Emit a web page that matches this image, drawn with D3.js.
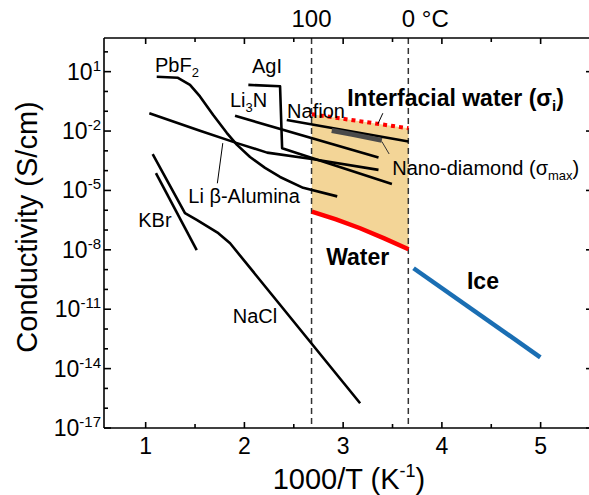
<!DOCTYPE html>
<html>
<head>
<meta charset="utf-8">
<script src="https://cdn.jsdelivr.net/npm/d3@7/dist/d3.min.js"></script>
<style>
  body { margin: 0; background: #fff; }
  svg { display: block; font-family: "Liberation Sans", Arial, sans-serif; }
</style>
</head>
<body>
<svg id="chart" width="589" height="495"></svg>
<script>
// values are [1000/T, log10(sigma in S/cm)]
var pbf2 = [[1.112, 0.74], [1.327, 0.69], [1.449, 0.33], [1.550, -0.25], [1.682, -1.18],
  [1.821, -2.09], [1.925, -2.70], [2.057, -3.31], [2.209, -3.86], [2.361, -4.32],
  [2.595, -4.87], [2.940, -5.30]];
var agi = [[2.040, 0.33], [2.361, 0.26], [2.382, -2.87], [3.494, -4.67]];
var li3n = [[1.905, -1.23], [3.358, -3.34]];
var nafion = [[2.429, -1.44], [3.662, -2.53]];
var liAlumina = [[1.037, -1.10], [1.550, -1.99], [1.925, -2.61], [2.230, -3.09],
  [2.683, -3.41], [3.358, -3.96]];
var kbr = [[1.104, -4.13], [1.517, -8.01]];
var nacl = [[1.071, -3.16], [1.398, -6.15], [1.517, -6.49], [1.736, -7.16],
  [1.855, -7.67], [3.172, -15.75]];
var nanoDiamond = [[2.885, -1.97], [3.091, -2.17], [3.392, -2.47]];
var interfacialWater = [[2.683, -1.15], [3.662, -1.86]];
var water = [[2.683, -6.07], [2.928, -6.46], [3.172, -6.91], [3.416, -7.42], [3.662, -7.97]];
var ice = [[3.713, -8.93], [4.997, -13.43]];

var boilingX = 2.68, freezingX = 3.66;

var xMajor = [1, 2, 3, 4, 5];
var xMinor = [1.5, 2.5, 3.5, 4.5];
var yMajorExp = [1, -2, -5, -8, -11, -14, -17];
var yMinorExp = [2, 0, -1, -3, -4, -6, -7, -9, -10, -12, -13, -15, -16];

var labels = [
  { text: 'PbF', sub: '2', x: 1.094, y: 0.99 },
  { text: 'AgI', x: 2.077, y: 0.94 },
  { text: 'Li', sub: '3', after: 'N', x: 1.854, y: -0.78 },
  { text: 'Nafion', x: 2.432, y: -1.34 },
  { text: 'Li \u03b2-Alumina', x: 1.432, y: -5.65 },
  { text: 'KBr', x: 0.925, y: -6.86 },
  { text: 'NaCl', x: 1.882, y: -11.71 },
  { text: 'Nano-diamond (\u03c3', sub: 'max', after: ')', x: 3.497, y: -4.22 },
  { text: 'Interfacial water (\u03c3', sub: 'i', after: ')', x: 3.041, y: -0.73, bold: true },
  { text: 'Water', x: 2.828, y: -8.76, bold: true },
  { text: 'Ice', x: 4.254, y: -9.99, bold: true }
];

// leader lines from labels to curves
var leaders = [
  [[1.781, -2.61], [1.726, -4.64]],
  [[3.392, -2.53], [3.466, -3.16]],
  [[3.352, -1.64], [3.402, -1.10]]
];

var svg = d3.select('#chart');
var margin = { left: 104, right: 590, top: 38, bottom: 428 };

var x = d3.scaleLinear().domain([0.578, 5.5]).range([margin.left, margin.right]);
var y = d3.scaleLog().domain([1e-17, Math.pow(10, 2.7)]).range([margin.bottom, margin.top]);

var line = d3.line()
  .x(function(d) { return x(d[0]); })
  .y(function(d) { return y(Math.pow(10, d[1])); });

// shaded interfacial region between the water and interfacial lines
var topEdge = water.map(function(d) {
  var t = (d[0] - interfacialWater[0][0]) / (interfacialWater[1][0] - interfacialWater[0][0]);
  return [d[0], interfacialWater[0][1] + t * (interfacialWater[1][1] - interfacialWater[0][1])];
});
var area = d3.area()
  .x(function(d) { return x(d[0]); })
  .y0(function(d, i) { return y(Math.pow(10, water[i][1])); })
  .y1(function(d) { return y(Math.pow(10, d[1])); });
svg.append('path')
  .attr('d', area(topEdge))
  .attr('fill', '#f3d597');

// dashed reference lines at 100 and 0 C
[boilingX, freezingX].forEach(function(v) {
  svg.append('line')
    .attr('x1', x(v)).attr('x2', x(v))
    .attr('y1', margin.top).attr('y2', margin.bottom)
    .style('stroke', '#333')
    .style('stroke-width', 1.5)
    .style('stroke-dasharray', '6,4');
});

var blackSeries = [pbf2, agi, li3n, nafion, liAlumina, kbr, nacl];
blackSeries.forEach(function(s) {
  svg.append('path')
    .attr('d', line(s))
    .attr('fill', 'none')
    .style('stroke', '#000')
    .style('stroke-width', 2.6)
    .style('stroke-linejoin', 'round');
});

svg.append('path')
  .attr('d', line(nanoDiamond))
  .attr('fill', 'none')
  .style('stroke', '#4a4a4a')
  .style('stroke-width', 5);

svg.append('path')
  .attr('d', line(interfacialWater))
  .attr('fill', 'none')
  .style('stroke', '#ff0000')
  .style('stroke-width', 4)
  .style('stroke-dasharray', '4,4');

svg.append('path')
  .attr('d', line(water))
  .attr('fill', 'none')
  .style('stroke', '#ff0000')
  .style('stroke-width', 4.5);

svg.append('path')
  .attr('d', line(ice))
  .attr('fill', 'none')
  .style('stroke', '#1a6eb3')
  .style('stroke-width', 4.5);

leaders.forEach(function(l, i) {
  svg.append('path')
    .attr('d', line(l))
    .style('stroke', i === 1 ? '#333' : '#000')
    .style('stroke-width', 1);
});

// axes frame
var axisG = svg.append('g').style('stroke', '#000').style('stroke-width', 1.6);
axisG.append('line').attr('x1', margin.left).attr('x2', margin.right).attr('y1', margin.bottom).attr('y2', margin.bottom);
axisG.append('line').attr('x1', margin.left).attr('x2', margin.right).attr('y1', margin.top).attr('y2', margin.top);
axisG.append('line').attr('x1', margin.left).attr('x2', margin.left).attr('y1', margin.top).attr('y2', margin.bottom);

xMajor.concat(xMinor).forEach(function(v) {
  var len = xMajor.indexOf(v) >= 0 ? 6 : 4;
  axisG.append('line').attr('x1', x(v)).attr('x2', x(v)).attr('y1', margin.bottom).attr('y2', margin.bottom - len);
  axisG.append('line').attr('x1', x(v)).attr('x2', x(v)).attr('y1', margin.top).attr('y2', margin.top + len);
});
yMajorExp.concat(yMinorExp).forEach(function(e) {
  var major = yMajorExp.indexOf(e) >= 0;
  var yy = y(Math.pow(10, e));
  axisG.append('line').attr('x1', margin.left).attr('x2', margin.left + (major ? 7 : 4)).attr('y1', yy).attr('y2', yy);
  if (major) {
    axisG.append('line').attr('x1', 586).attr('x2', margin.right).attr('y1', yy).attr('y2', yy);
  }
});

// tick labels
xMajor.forEach(function(v) {
  svg.append('text')
    .attr('x', x(v)).attr('y', margin.bottom + 26)
    .attr('text-anchor', 'middle')
    .style('font-size', '23px')
    .text(v);
});
yMajorExp.forEach(function(e) {
  var t = svg.append('text')
    .attr('x', 101).attr('y', y(Math.pow(10, e)) + 8)
    .attr('text-anchor', 'end')
    .style('font-size', '23px');
  t.append('tspan').text('10');
  t.append('tspan').attr('dy', -9).style('font-size', '15px').text(e < 0 ? '-' + (-e) : e);
});

svg.append('text')
  .attr('x', x(boilingX)).attr('y', 27)
  .attr('text-anchor', 'middle')
  .style('font-size', '24px')
  .text('100');
svg.append('text')
  .attr('x', x(freezingX) - 6.5).attr('y', 27)
  .style('font-size', '24px')
  .text('0 \u00b0C');

// axis titles
var xt = svg.append('text')
  .attr('x', 349).attr('y', 489)
  .attr('text-anchor', 'middle')
  .style('font-size', '29px');
xt.append('tspan').text('1000/T (K');
xt.append('tspan').attr('dy', -12).style('font-size', '18px').text('-1');
xt.append('tspan').attr('dy', 12).text(')');

svg.append('text')
  .attr('transform', 'translate(37,227) rotate(-90)')
  .attr('text-anchor', 'middle')
  .style('font-size', '29px')
  .text('Conductivity (S/cm)');

// curve labels
labels.forEach(function(l) {
  var fs = l.bold ? 23 : 20;
  var t = svg.append('text')
    .attr('x', x(l.x)).attr('y', y(Math.pow(10, l.y)))
    .style('font-size', fs + 'px')
    .style('font-weight', l.bold ? 'bold' : 'normal');
  t.append('tspan').text(l.text);
  if (l.sub) {
    t.append('tspan').attr('dy', 5).style('font-size', Math.round(fs * 0.65) + 'px').text(l.sub);
    if (l.after) {
      t.append('tspan').attr('dy', -5).text(l.after);
    }
  }
});
</script>
</body>
</html>
